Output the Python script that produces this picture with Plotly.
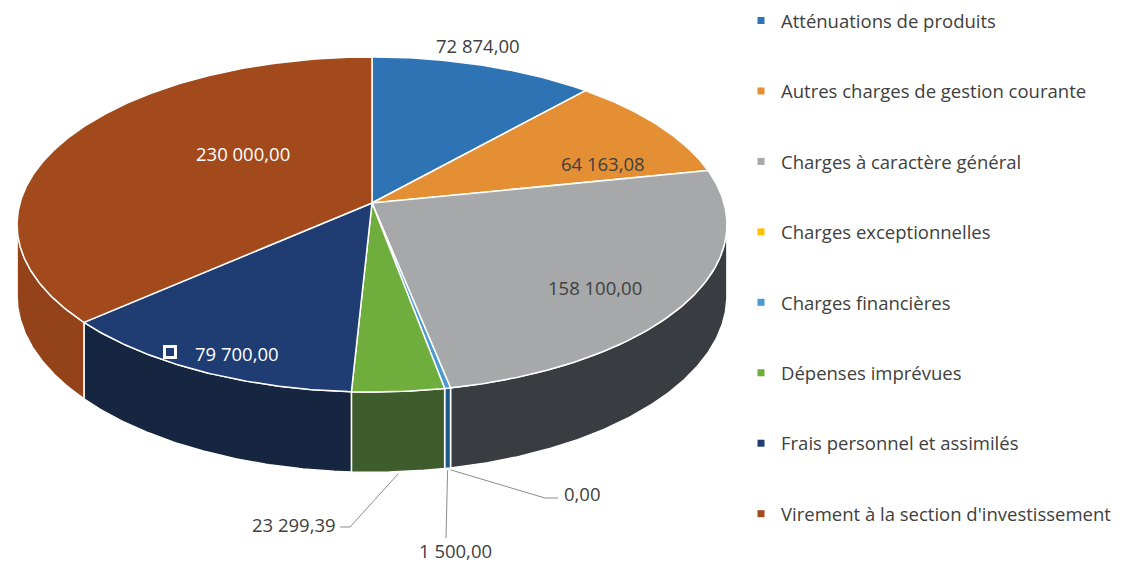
import math
import plotly.graph_objects as go

# ---------------- data ----------------
categories = [
    "Atténuations de produits",
    "Autres charges de gestion courante",
    "Charges à caractère général",
    "Charges exceptionnelles",
    "Charges financières",
    "Dépenses imprévues",
    "Frais personnel et assimilés",
    "Virement à la section d'investissement",
]
values = [72874.00, 64163.08, 158100.00, 0.00, 1500.00, 23299.39, 79700.00, 230000.00]

# ---------------- styles ----------------
top_colors = ["#2E74B5", "#E58F35", "#A6A8AA", "#FFC000", "#4A9BD0", "#6FAE3C", "#1F3D73", "#A24A1C"]
side_colors = ["#1F4F7C", "#9C5E22", "#393C40", "#A88000", "#1F5B85", "#3F5C2C", "#172640", "#93421A"]
TEXT_DARK = "#404040"
FONT = "Open Sans"
FS = 18.5

W, H = 1127, 563

# projection parameters (window pixel space)
CX, CY = 372.0, 203.0
A, B, K, D = 352.0, 164.8, 0.128, 70.0


def proj(theta_deg, r=1.0, drop=0.0):
    t = math.radians(theta_deg)
    u, v = r * math.sin(t), r * math.cos(t)
    s = 1.0 / (1.0 + K * v)
    return CX + A * u * s, CY - B * v * s + D * s * drop


def arc(a0, a1, drop=0.0):
    n = max(2, int(abs(a1 - a0) / 0.5) + 2)
    return [proj(a0 + (a1 - a0) * i / (n - 1), 1.0, drop) for i in range(n)]


def fmt(v):
    return f"{v:,.2f}".replace(",", " ").replace(".", ",")


total = sum(values)
starts, ends = [], []
acc = 0.0
for v in values:
    starts.append(acc / total * 360.0)
    acc += v
    ends.append(acc / total * 360.0)

FRONT0 = math.degrees(math.acos(-K))
FRONT1 = 360.0 - FRONT0

fig = go.Figure()

# side walls
for i, v in enumerate(values):
    a0, a1 = max(starts[i], FRONT0), min(ends[i], FRONT1)
    if v <= 0 or a1 <= a0:
        continue
    top = arc(a0, a1, 0.0)
    bot = arc(a0, a1, 1.0)[::-1]
    pts = top + bot + [top[0]]
    fig.add_trace(go.Scatter(
        x=[p[0] for p in pts], y=[p[1] for p in pts], mode="lines", fill="toself",
        fillcolor=side_colors[i], line=dict(color="white", width=1.5),
        hoverinfo="skip", showlegend=False))

# top faces
for i, v in enumerate(values):
    if v <= 0:
        continue
    pts = [(CX, CY)] + arc(starts[i], ends[i]) + [(CX, CY)]
    fig.add_trace(go.Scatter(
        x=[p[0] for p in pts], y=[p[1] for p in pts], mode="lines", fill="toself",
        fillcolor=top_colors[i], line=dict(color="white", width=1.5),
        hoverinfo="text", text=f"{categories[i]} : {fmt(v)}", showlegend=False))

# legend entries
for i, c in enumerate(categories):
    fig.add_trace(go.Scatter(
        x=[None], y=[None], mode="markers", name=c, legendgroup=c,
        marker=dict(symbol="square", size=7, color=top_colors[i])))

# data labels
label_pos = {
    0: (478, 45, TEXT_DARK, "center"),
    1: (603, 163, TEXT_DARK, "center"),
    2: (595, 287, TEXT_DARK, "center"),
    6: (237, 353, "white", "center"),
    7: (243, 153, "white", "center"),
}
for i, (x, y, col, al) in label_pos.items():
    fig.add_annotation(x=x, y=y, text=fmt(values[i]), showarrow=False,
                       font=dict(family=FONT, size=FS, color=col), xanchor=al, yanchor="middle")


def mid_bottom(i):
    return proj((starts[i] + ends[i]) / 2.0, 1.0, 1.0)


leaders = {
    5: [(350, 527), (340, 527)],
    4: [(446, 538)],
    3: [(545, 498), (558, 498)],
}
leader_text = {
    5: (338, 524, "right"),
    4: (455, 550, "center"),
    3: (562, 493, "left"),
}
for i, path in leaders.items():
    x0, y0 = mid_bottom(i)
    xs = [x0] + [p[0] for p in path]
    ys = [y0 + 2] + [p[1] for p in path]
    fig.add_trace(go.Scatter(x=xs, y=ys, mode="lines", line=dict(color="#8C8C8C", width=1),
                             hoverinfo="skip", showlegend=False))
    tx, ty, al = leader_text[i]
    fig.add_annotation(x=tx, y=ty, text=fmt(values[i]), showarrow=False,
                       font=dict(family=FONT, size=FS, color=TEXT_DARK), xanchor=al, yanchor="middle")

# small selection handle next to the 79 700,00 label
fig.add_trace(go.Scatter(x=[170], y=[352], mode="markers",
                         marker=dict(symbol="square", size=11, color="#1F3D73",
                                     line=dict(color="white", width=3)),
                         hoverinfo="skip", showlegend=False))

fig.update_layout(
    width=W, height=H,
    margin=dict(l=0, r=0, t=0, b=0),
    paper_bgcolor="white", plot_bgcolor="white",
    xaxis=dict(range=[0, W], visible=False, fixedrange=True),
    yaxis=dict(range=[H, 0], visible=False, fixedrange=True),
    showlegend=True,
    legend=dict(x=741 / W, y=1 - 2 / H, xanchor="left", yanchor="top",
                font=dict(family=FONT, size=FS, color=TEXT_DARK),
                tracegroupgap=43.4, bgcolor="rgba(0,0,0,0)"),
    font=dict(family=FONT),
)

fig.write_html("out.html",
               config={"displayModeBar": False},
               post_script="document.body.style.margin='0';document.body.style.overflow='hidden';")
